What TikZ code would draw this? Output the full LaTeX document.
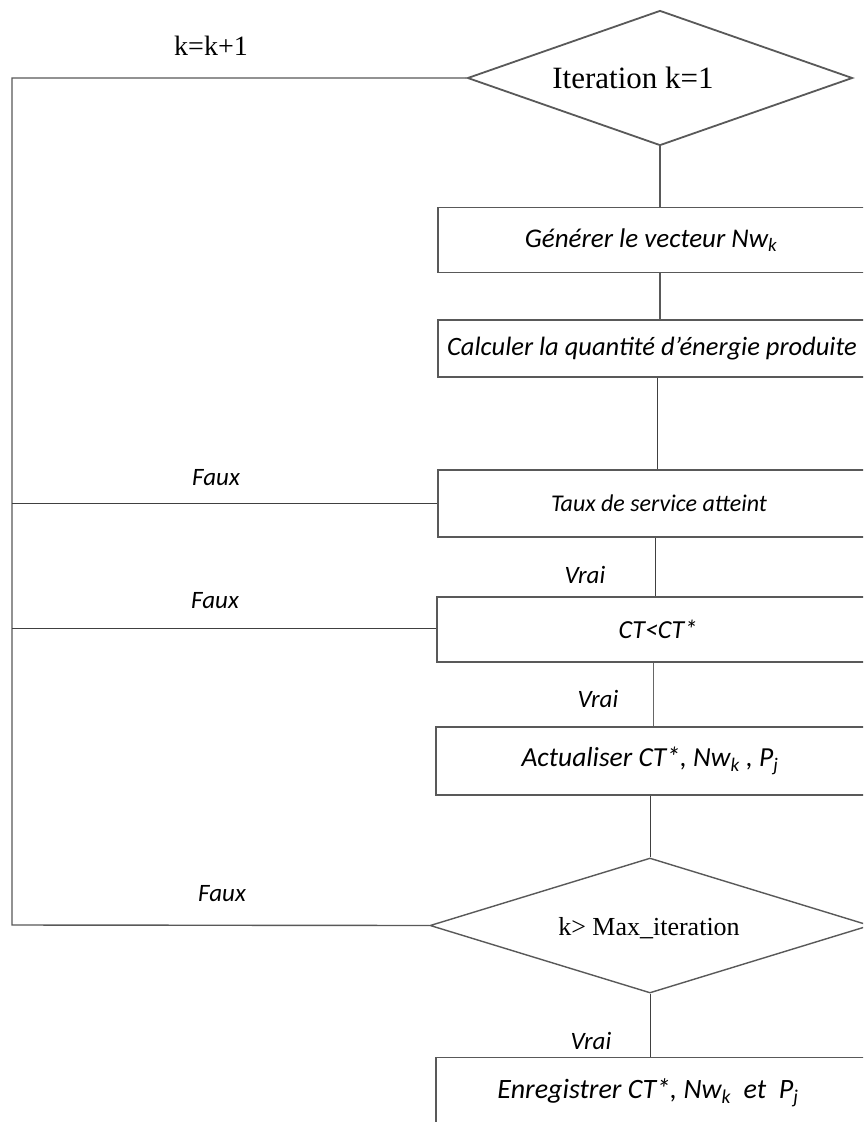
\documentclass[tikz,border=0pt]{standalone}
\usepackage{fontspec}
\setmainfont{Liberation Serif}
\newfontfamily\carlitofont{Carlito}
\usetikzlibrary{shapes.geometric}
\newcommand\fsz[1]{\fontsize{#1}{#1}\selectfont}
\newcommand\zerobox[1]{\smash{\raisebox{-10pt}{\makebox[0pt]{#1}}}}
\begin{document}
\begin{tikzpicture}[x=1pt,y=-1pt,
  ln/.style={draw=black!65, line width=1.8pt},
  lnthin/.style={draw=black!75, line width=1pt},
  boxn/.style={draw=black!65, line width=1.8pt, rectangle, minimum width=434pt, minimum height=65pt, inner sep=0pt, font=\carlitofont\itshape\fsz{27}},
  dec/.style={draw=black!65, line width=1.8pt, diamond, inner sep=0pt, font=\fsz{28}},
  lab/.style={font=\carlitofont\itshape\fsz{25}},
  labr/.style={font=\fsz{28}}]
\useasboundingbox (0,0) rectangle (863,1122);
\clip (0,0) rectangle (863,1122);
\fill[white] (0,0) rectangle (863,1122);
\node[dec, minimum width=385pt, minimum height=135pt, font=\fsz{31}] (d1) at (660,78) {\zerobox{\hspace*{-54pt}Iteration k=1}};
\node[boxn, font=\carlitofont\itshape\fsz{27}] (b1) at (655,240) {\hspace*{-8pt}Générer le vecteur Nw\textsubscript{k}};
\node[boxn, minimum height=57pt, font=\carlitofont\itshape\fsz{26.5}] (b2) at (655,348.5) {\hspace*{-6pt}Calculer la quantité d’énergie produite};
\node[boxn, line width=1.4pt, minimum height=67pt, font=\carlitofont\itshape\fsz{24}] (b3) at (655,503.5) {\hspace*{8pt}Taux de service atteint};
\node[boxn, line width=1.4pt, minimum height=65pt, font=\carlitofont\itshape\fsz{26}] (b4) at (654,629.5) {\hspace*{8pt}CT<CT*};
\node[boxn, line width=1.4pt, minimum height=68pt, font=\carlitofont\itshape\fsz{27.5}] (b5) at (653,761) {\hspace*{-6pt}Actualiser CT*, Nw\textsubscript{k} , P\textsubscript{j}};
\node[dec, line width=1.4pt, minimum width=440pt, minimum height=135pt, font=\fsz{26}] (d2) at (650,925.5) {\zerobox{\hspace*{-2pt}k> Max\_iteration}};
\node[boxn, line width=1.4pt, minimum height=70pt, anchor=north, font=\carlitofont\itshape\fsz{28}] (b6) at (653,1057) {\hspace*{-10pt}Enregistrer CT*, Nw\textsubscript{k}\ \ et\ \ P\textsubscript{j}};
\coordinate (c0) at (12,78);
\coordinate (c1) at (12,925);
\coordinate (f1) at (12,503.5);
\coordinate (f2) at (12,628);
% vertical flow
\draw[ln] (d1.south) -- (b1.north -| d1.south);
\draw[ln] (b1.south -| d1.south) -- (b2.north -| d1.south);
\draw[lnthin] ([xshift=-3pt]b2.south -| d1.south) -- ([xshift=-3pt]b3.north -| d1.south);
\draw[lnthin] ([xshift=-5pt]b3.south -| d1.south) -- ([xshift=-5pt]b4.north -| d1.south);
\draw[draw=black!60, line width=0.7pt] ([xshift=-7pt]b4.south -| d1.south) -- ([xshift=-7pt]b5.north -| d1.south);
\draw[lnthin] (b5.south -| d2.north) -- (d2.north);
\draw[lnthin] (d2.south) -- (b6.north -| d2.south);
% loop back
\draw[ln, line width=1.4pt] (d1.west) -- (c0) -- (c1) -- (d2.west);
\draw[lnthin] (f1) -- (b3.west);
\draw[lnthin] (f2) -- (b4.west |- f2);
% labels
\node[labr] (lk) at (211,46) {k=k+1};
\node[lab] (l1) at (216,478) {Faux};
\node[lab] (l2) at (215,601) {Faux};
\node[lab] (l3) at (222,894) {Faux};
\node[lab] (v1) at (585,575) {Vrai};
\node[lab] (v2) at (598,699) {Vrai};
\node[lab] (v3) at (591,1041) {Vrai};
\end{tikzpicture}
\end{document}
